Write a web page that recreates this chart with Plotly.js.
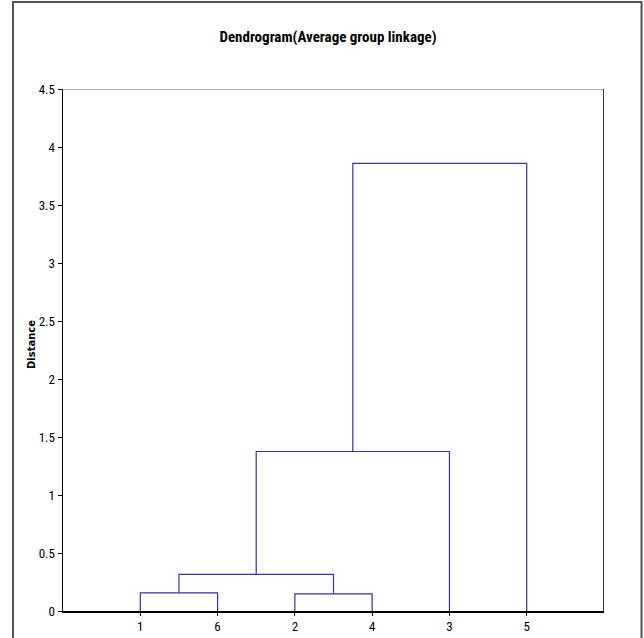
<!DOCTYPE html>
<html>
<head>
<meta charset="utf-8">
<script src="https://cdn.plot.ly/plotly-3.0.1.min.js"></script>
<style>html,body{margin:0;padding:0;background:#fff;}#chart{width:644px;height:638px;}</style>
</head>
<body>
<div id="chart"></div>
<script>
// Leaf order along the x axis
const leafLabels = ['1', '6', '2', '4', '3', '5'];
// Agglomeration steps: clusters joined and the distance at which they join
const mergeLeft   = ['1', '2', 'C1', 'C3', 'C4'];
const mergeRight  = ['6', '4', 'C2', '3', '5'];
const mergeHeight = [0.157, 0.148, 0.315, 1.375, 3.858];
const yTickVals = [0, 0.5, 1, 1.5, 2, 2.5, 3, 3.5, 4, 4.5];

const posX = {}, posY = {};
leafLabels.forEach((l, i) => { posX[l] = i + 1; posY[l] = 0; });

const traces = [];
const lineColor = '#35359c';
mergeHeight.forEach((h, i) => {
  const a = mergeLeft[i], b = mergeRight[i];
  const name = 'C' + (i + 1);
  traces.push({
    type: 'scatter', mode: 'lines',
    x: [posX[a], posX[a], posX[b], posX[b]],
    y: [posY[a], h, h, posY[b]],
    line: {color: lineColor, width: 1.2},
    hoverinfo: 'skip', showlegend: false
  });
  posX[name] = (posX[a] + posX[b]) / 2;
  posY[name] = h;
});

const narrow = '"Roboto Condensed", "Liberation Sans Narrow", "Arial Narrow", sans-serif';
const W = 541, H = 522; // plot area size in px

const layout = {
  width: 644, height: 638,
  margin: {l: 63, r: 40, t: 89, b: 27},
  paper_bgcolor: '#ffffff', plot_bgcolor: '#ffffff',
  showlegend: false,
  title: {
    text: '<b>Dendrogram(Average group linkage)</b>',
    font: {family: narrow, size: 15, color: '#000'},
    x: 328 / 644, xanchor: 'center', y: 1 - 37 / 638, yanchor: 'middle'
  },
  xaxis: {
    range: [0, 7],
    tickmode: 'array',
    tickvals: leafLabels.map((l, i) => i + 1),
    ticktext: leafLabels,
    ticks: 'outside', ticklen: 3, tickcolor: '#000', tickwidth: 1,
    showline: true, linecolor: '#000', linewidth: 1.5,
    showgrid: false, zeroline: false,
    tickfont: {family: narrow, size: 13, color: '#000'},
    fixedrange: true
  },
  yaxis: {
    range: [0, 4.5],
    tickmode: 'array',
    tickvals: yTickVals,
    ticktext: yTickVals.map(v => String(v)),
    ticks: 'outside', ticklen: 4, tickcolor: '#000', tickwidth: 1,
    showline: true, linecolor: '#000', linewidth: 1.5,
    showgrid: false, zeroline: false,
    tickfont: {family: narrow, size: 13, color: '#000'},
    fixedrange: true
  },
  annotations: [{
    xref: 'paper', yref: 'paper', x: (31 - 63) / W, y: (611 - 345) / H,
    xanchor: 'center', yanchor: 'middle', showarrow: false, textangle: -90,
    text: '<b>Distance</b>',
    font: {family: '"DejaVu Sans", Verdana, sans-serif', size: 10, color: '#000'}
  }],
  shapes: [
    {type: 'line', xref: 'x', yref: 'y', x0: 0, x1: 7.04, y0: 4.5, y1: 4.5, line: {color: '#9a9a9a', width: 1.5}},
    {type: 'line', xref: 'x', yref: 'y', x0: 7, x1: 7, y0: 0, y1: 4.5, line: {color: '#000', width: 1.5}},
    {type: 'rect', xref: 'paper', yref: 'paper',
     x0: (13 - 63) / W, x1: (641.5 - 63) / W, y0: -40 / H, y1: (611 - 2) / H,
     line: {color: '#555', width: 2}, fillcolor: 'rgba(0,0,0,0)', layer: 'below'}
  ]
};

Plotly.newPlot('chart', traces, layout, {displayModeBar: false, staticPlot: true});
</script>
</body>
</html>
